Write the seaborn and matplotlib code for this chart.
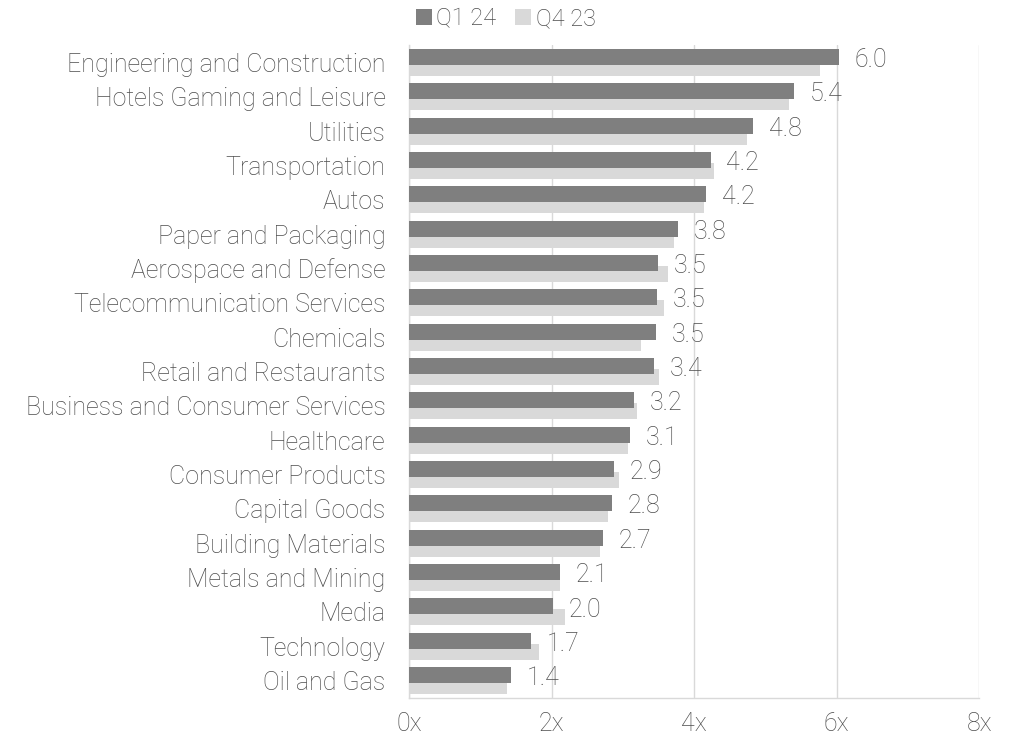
import matplotlib
matplotlib.use("Agg")
import matplotlib.pyplot as plt
import seaborn as sns
import pandas as pd
from matplotlib.patches import Patch

sectors = [
    "Engineering and Construction", "Hotels Gaming and Leisure", "Utilities",
    "Transportation", "Autos", "Paper and Packaging", "Aerospace and Defense",
    "Telecommunication Services", "Chemicals", "Retail and Restaurants",
    "Business and Consumer Services", "Healthcare", "Consumer Products",
    "Capital Goods", "Building Materials", "Metals and Mining", "Media",
    "Technology", "Oil and Gas",
]
q1_24 = [6.03, 5.40, 4.83, 4.23, 4.17, 3.77, 3.49, 3.48, 3.46, 3.44,
         3.16, 3.10, 2.87, 2.84, 2.72, 2.12, 2.02, 1.71, 1.43]
q4_23 = [5.76, 5.33, 4.74, 4.28, 4.14, 3.72, 3.63, 3.58, 3.25, 3.51,
         3.20, 3.07, 2.94, 2.79, 2.68, 2.12, 2.19, 1.82, 1.37]
periods = ["Q1 24", "Q4 23"]
x_ticks = [0, 2, 4, 6, 8]
x_tick_labels = ["0x", "2x", "4x", "6x", "8x"]

DARK = "#7f7f7f"
LIGHT = "#d9d9d9"
TEXT = "#4d4d4d"
GRID = "#d9d9d9"
FS = 18

sns.set_theme(style="white")
plt.rcParams["font.family"] = ["Roboto", "DejaVu Sans"]
plt.rcParams["font.weight"] = "light"

df = pd.DataFrame({
    "sector": sectors * 2,
    "value": q1_24 + q4_23,
    "period": [periods[0]] * len(sectors) + [periods[1]] * len(sectors),
})

fig = plt.figure(figsize=(10.18, 7.40), dpi=100)
ax = fig.add_axes([0.402, 0.057, 0.56, 0.882])

bar_h = 0.467
sns.barplot(data=df, x="value", y="sector", hue="period", order=sectors,
            hue_order=periods, palette=[DARK, LIGHT], dodge=True,
            width=2 * bar_h, orient="y", ax=ax, legend=False,
            saturation=1, linewidth=0, errorbar=None)

# Pull the two series together so they overlap like clustered Excel bars
offset = 0.16
n = len(sectors)
for i, patch in enumerate(ax.patches[: 2 * n]):
    series = 0 if i < n else 1
    cat = i % n
    center = cat - offset if series == 0 else cat + offset
    patch.set_y(center - bar_h / 2)
    patch.set_height(bar_h)
    patch.set_zorder(3 if series == 0 else 2)

# Value labels for the latest quarter
for cat, v in enumerate(q1_24):
    ax.text(v + 0.22, cat - 0.07, f"{v:.1f}", va="center", ha="left",
            fontsize=FS, color=TEXT, fontweight="light")

ax.set_xlim(0, 8)
ax.set_ylim(n - 0.5, -0.5)
ax.set_xticks(x_ticks)
ax.set_xticklabels(x_tick_labels)
ax.set_xlabel("")
ax.set_ylabel("")
ax.xaxis.grid(True, color=GRID, linewidth=1)
ax.set_axisbelow(True)

for side in ["top", "right"]:
    ax.spines[side].set_visible(False)
for side in ["left", "bottom"]:
    ax.spines[side].set_color(GRID)
    ax.spines[side].set_linewidth(1)

ax.tick_params(axis="x", colors=TEXT, labelsize=FS, length=5, width=1,
               color=GRID, pad=5, direction="out")
ax.tick_params(axis="y", colors=TEXT, labelsize=FS, length=0, pad=17)
for lbl in ax.get_xticklabels() + ax.get_yticklabels():
    lbl.set_fontweight("light")

handles = [Patch(facecolor=DARK, edgecolor="none"),
           Patch(facecolor=LIGHT, edgecolor="none")]
fig.legend(handles, periods, loc="center", bbox_to_anchor=(0.497, 0.975),
           ncol=2, frameon=False, labelcolor=TEXT,
           handlelength=0.65, handleheight=0.65, handletextpad=0.2,
           columnspacing=0.8, prop={"weight": "light", "size": 17})

fig.savefig("out.png", dpi=100, facecolor="white")
